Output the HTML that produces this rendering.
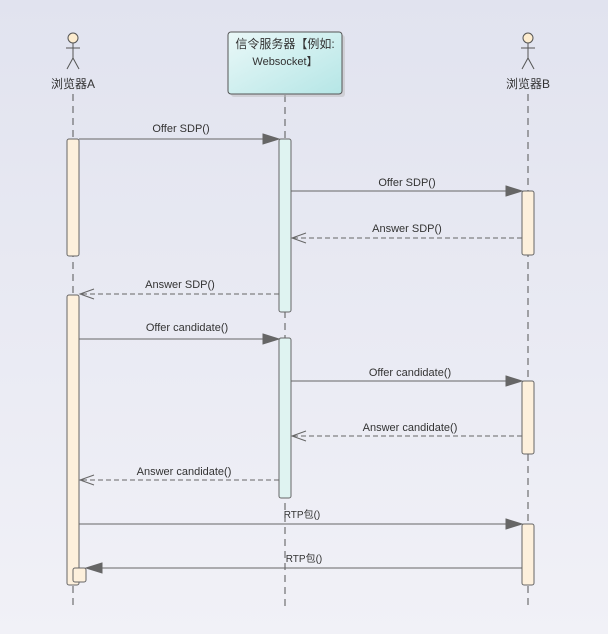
<!DOCTYPE html>
<html><head><meta charset="utf-8"><style>
html,body{margin:0;padding:0;width:608px;height:634px;overflow:hidden}
svg{display:block;font-family:"Liberation Sans","Noto Sans CJK SC",sans-serif;font-size:11px}
</style></head><body>
<svg width="608" height="634" viewBox="0 0 608 634" xmlns="http://www.w3.org/2000/svg">
<defs>
<linearGradient id="bg" x1="0" y1="0" x2="0" y2="1"><stop offset="0" stop-color="#e1e3ef"/><stop offset="1" stop-color="#f1f1f7"/></linearGradient>
<linearGradient id="box" x1="0" y1="0" x2="1" y2="1"><stop offset="0" stop-color="#eaf8f8"/><stop offset="1" stop-color="#b5e6e6"/></linearGradient>
</defs>
<rect width="608" height="634" fill="url(#bg)"/>
<g stroke="#555" stroke-width="1" stroke-dasharray="7,5" fill="none">
<line x1="73" y1="94" x2="73" y2="606"/>
<line x1="285" y1="95" x2="285" y2="606"/>
<line x1="528" y1="94" x2="528" y2="606"/>
</g>
<!-- actors -->
<g stroke="#555" fill="none">
<circle cx="73" cy="38" r="5" fill="#fdeccf"/>
<line x1="73" y1="43" x2="73" y2="58"/><line x1="66" y1="48" x2="80" y2="48"/>
<line x1="73" y1="58" x2="67" y2="69"/><line x1="73" y1="58" x2="79" y2="69"/>
<circle cx="528" cy="38" r="5" fill="#fdeccf"/>
<line x1="528" y1="43" x2="528" y2="58"/><line x1="521" y1="48" x2="535" y2="48"/>
<line x1="528" y1="58" x2="522" y2="69"/><line x1="528" y1="58" x2="534" y2="69"/>
</g>
<text x="73" y="88" text-anchor="middle" fill="#333" font-size="12">浏览器A</text>
<text x="528" y="88" text-anchor="middle" fill="#333" font-size="12">浏览器B</text>
<rect x="231" y="35" width="114" height="62" rx="3" fill="#bbb" opacity="0.5"/>
<rect x="228" y="32" width="114" height="62" rx="3" fill="url(#box)" stroke="#555"/>
<text x="285" y="48" text-anchor="middle" fill="#333" font-size="12">信令服务器【例如:</text>
<text x="285" y="65" text-anchor="middle" fill="#333" font-size="11">Websocket】</text>
<!-- activations -->
<g stroke="#666" stroke-width="1">
<rect x="67" y="139" width="12" height="117" rx="2" fill="#fdf0dc"/>
<rect x="67" y="295" width="12" height="290" rx="2" fill="#fdf0dc"/>
<rect x="73" y="568" width="13" height="14" rx="2" fill="#fdf0dc"/>
<rect x="279" y="139" width="12" height="173" rx="2" fill="#dff3f1"/>
<rect x="279" y="338" width="12" height="160" rx="2" fill="#dff3f1"/>
<rect x="522" y="191" width="12" height="64" rx="2" fill="#fdf0dc"/>
<rect x="522" y="381" width="12" height="73" rx="2" fill="#fdf0dc"/>
<rect x="522" y="524" width="12" height="61" rx="2" fill="#fdf0dc"/>
</g>
<!-- messages -->
<g stroke="#666" fill="none">
<line x1="79" y1="139" x2="265" y2="139"/><polygon points="263,134 279,139 263,144" fill="#666"/>
<line x1="291" y1="191" x2="508" y2="191"/><polygon points="506,186 522,191 506,196" fill="#666"/>
<line x1="522" y1="238" x2="292" y2="238" stroke-dasharray="5,3"/><polyline points="306,233 292,238 306,243"/>
<line x1="279" y1="294" x2="80" y2="294" stroke-dasharray="5,3"/><polyline points="94,289 80,294 94,299"/>
<line x1="79" y1="339" x2="265" y2="339"/><polygon points="263,334 279,339 263,344" fill="#666"/>
<line x1="291" y1="381" x2="508" y2="381"/><polygon points="506,376 522,381 506,386" fill="#666"/>
<line x1="522" y1="436" x2="292" y2="436" stroke-dasharray="5,3"/><polyline points="306,431 292,436 306,441"/>
<line x1="279" y1="480" x2="80" y2="480" stroke-dasharray="5,3"/><polyline points="94,475 80,480 94,485"/>
<line x1="79" y1="524" x2="508" y2="524"/><polygon points="506,519 522,524 506,529" fill="#666"/>
<line x1="522" y1="568" x2="100" y2="568"/><polygon points="102,563 86,568 102,573" fill="#666"/>
</g>
<g fill="#333" text-anchor="middle">
<text x="181" y="132">Offer SDP()</text>
<text x="407" y="186">Offer SDP()</text>
<text x="407" y="232">Answer SDP()</text>
<text x="180" y="288">Answer SDP()</text>
<text x="187" y="331">Offer candidate()</text>
<text x="410" y="376">Offer candidate()</text>
<text x="410" y="431">Answer candidate()</text>
<text x="184" y="475">Answer candidate()</text>
<text x="302" y="518" font-size="10">RTP包()</text>
<text x="304" y="562" font-size="10">RTP包()</text>
</g>
</svg>
</body></html>
